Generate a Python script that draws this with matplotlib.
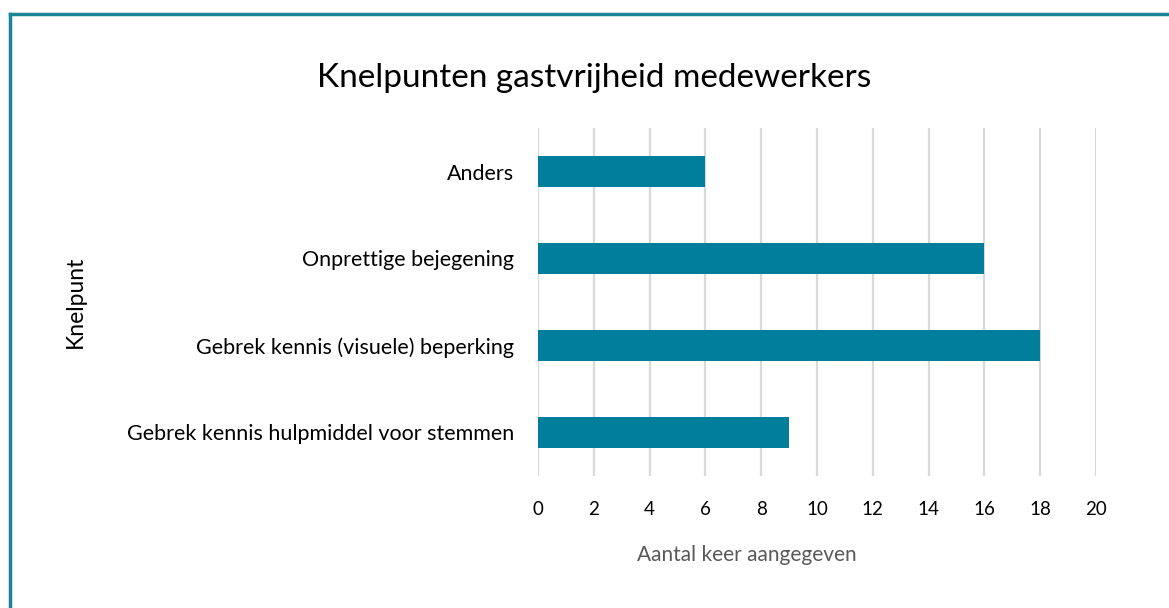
import numpy as np
import matplotlib.pyplot as plt
from matplotlib.lines import Line2D

plt.rcParams['font.family'] = ['Lato', 'DejaVu Sans']

# Data
knelpunten = ['Anders', 'Onprettige bejegening', 'Gebrek kennis (visuele) beperking',
              'Gebrek kennis hulpmiddel voor stemmen']
aantallen = [6, 16, 18, 9]
x_ticks = [0, 2, 4, 6, 8, 10, 12, 14, 16, 18, 20]

W, H = 1169, 608
fig = plt.figure(figsize=(W / 100, H / 100), dpi=100)
ax = fig.add_axes([538 / W, 1 - 476 / H, (1096 - 538) / W, (476 - 128) / H])

pos = np.arange(len(knelpunten))
ax.barh(pos, aantallen, height=0.36, color='#007E9C', zorder=3)
ax.set_ylim(len(knelpunten) - 0.5, -0.5)
ax.set_yticks(pos)
ax.set_yticklabels(knelpunten, fontsize=15.5)
ax.set_xlim(0, 20)
ax.set_xticks(x_ticks)
ax.set_xticklabels([str(t) for t in x_ticks], fontsize=13.5)
ax.tick_params(axis='y', length=0, pad=17)
ax.tick_params(axis='x', length=0, pad=18)
ax.grid(axis='x', color='#D9D9D9', linewidth=1.6, zorder=0)
for s in ax.spines.values():
    s.set_visible(False)

fig.text(594 / W, 1 - 78 / H, 'Knelpunten gastvrijheid medewerkers',
         ha='center', va='center', fontsize=24)
fig.text(747 / W, 1 - 555 / H, 'Aantal keer aangegeven', ha='center', va='center',
         fontsize=15, color='#595959')
fig.text(75 / W, 1 - 302 / H, 'Knelpunt', ha='center', va='center',
         rotation=90, fontsize=16.5)

# border of the chart frame
border = '#1B8598'
fig.add_artist(Line2D([10 / W, 1], [1 - 14 / H, 1 - 14 / H], color=border, linewidth=2.5))
fig.add_artist(Line2D([10 / W, 10 / W], [0, 1 - 14 / H], color=border, linewidth=2.5))

fig.savefig('out.png', dpi=100)
